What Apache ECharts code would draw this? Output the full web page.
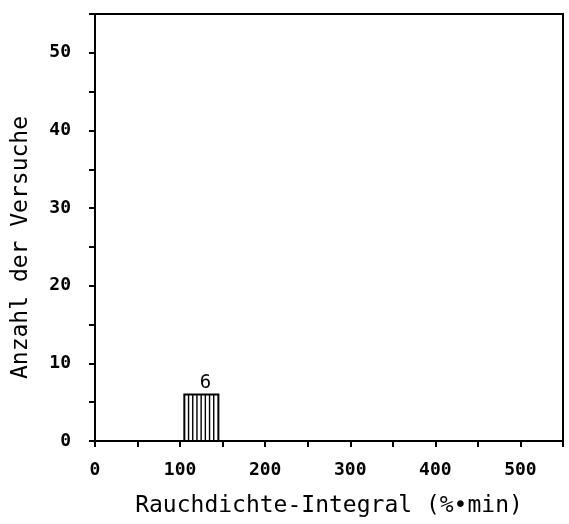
<!DOCTYPE html>
<html><head><meta charset="utf-8">
<script src="https://cdn.jsdelivr.net/npm/echarts@6/dist/echarts.min.js"></script>
<style>html,body{margin:0;padding:0;background:#fff}#c{width:569px;height:524px}</style>
</head><body><div id="c"></div>
<script>
const binStart = [105];
const binEnd = [145];
const counts = [6];
const xTitle = 'Rauchdichte-Integral (%\u2022min)';
const yTitle = 'Anzahl der Versuche';

const chart = echarts.init(document.getElementById('c'), null, {renderer: 'canvas'});
const FONT = 'DejaVu Sans Mono';
const data = counts.map((c, i) => [binStart[i], binEnd[i], c]);

chart.setOption({
  animation: false,
  grid: {left: 95, right: 6, top: 14, bottom: 83, show: true, borderColor: '#000', borderWidth: 2, backgroundColor: 'transparent'},
  xAxis: {
    type: 'value', min: 0, max: 550, interval: 50,
    name: xTitle, nameLocation: 'middle', nameGap: 54,
    nameTextStyle: {fontFamily: FONT, fontSize: 23, color: '#000'},
    axisLine: {lineStyle: {color: '#000', width: 2}},
    axisTick: {lineStyle: {color: '#000', width: 2}, length: 6},
    axisLabel: {fontFamily: FONT, fontSize: 18, fontWeight: 'bold', color: '#000', margin: 20,
      formatter: v => (v % 100 === 0 ? String(v) : '')},
    splitLine: {show: false}
  },
  yAxis: {
    type: 'value', min: 0, max: 55, interval: 5,
    name: yTitle, nameLocation: 'middle', nameGap: 62, nameRotate: 90,
    nameTextStyle: {fontFamily: FONT, fontSize: 23, color: '#000', padding: [0, 0, 0, -40]},
    axisLine: {lineStyle: {color: '#000', width: 2}},
    axisTick: {lineStyle: {color: '#000', width: 2}, length: 6},
    axisLabel: {fontFamily: FONT, fontSize: 18, fontWeight: 'bold', color: '#000', margin: 24,
      formatter: v => (v % 10 === 0 ? String(v) : '')},
    splitLine: {show: false}
  },
  series: [{
    type: 'custom',
    data: data,
    encode: {x: [0, 1], y: 2},
    renderItem: function (params, api) {
      const p0 = api.coord([api.value(0), 0]);
      const p1 = api.coord([api.value(1), api.value(2)]);
      const x0 = p0[0], x1 = p1[0], yb = p0[1], yt = p1[1];
      const children = [{
        type: 'rect', shape: {x: x0, y: yt, width: x1 - x0, height: yb - yt},
        style: {fill: '#fff', stroke: '#000', lineWidth: 2}
      }];
      const step = 4.2;
      for (let x = x0 + step; x < x1 - 1; x += step) {
        children.push({type: 'line', shape: {x1: x, y1: yt, x2: x, y2: yb}, style: {stroke: '#000', lineWidth: 1.4}});
      }
      children.push({
        type: 'text', x: (x0 + x1) / 2 + 4, y: yt - 2,
        style: {text: String(api.value(2)), fontFamily: FONT, fontSize: 19, fill: '#000', align: 'center', verticalAlign: 'bottom'}
      });
      return {type: 'group', children: children};
    }
  }]
});
</script></body></html>
